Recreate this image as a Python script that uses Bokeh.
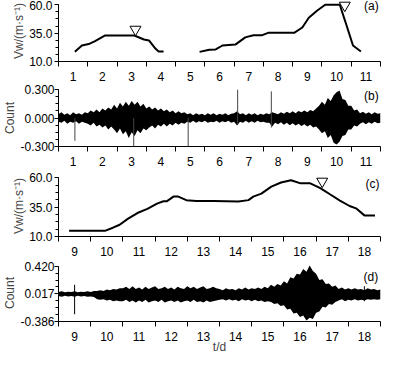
import numpy as np
from bokeh.plotting import figure
from bokeh.layouts import column
from bokeh.models import FixedTicker, Label, Range1d
from bokeh.embed import file_html
from bokeh.resources import INLINE

nan = float("nan")

# ---------------- data ----------------
# panel (a) wind speed, days 1-11 (gap between the two records)
a_day = [1.06, 1.30, 1.53, 1.75, 2.08, 3.09, 3.42, 3.59, 3.81, 3.92, 4.09, nan,
         5.32, 5.65, 5.87, 6.10, 6.54, 6.88, 7.16, 7.44, 7.66, 8.55, 8.83, 9.05,
         9.33, 9.61, 10.11, 10.30, 10.56, 10.83]
a_speed = [18.5, 24.1, 25.4, 28.0, 32.9, 32.9, 29.4, 28.6, 21.4, 18.8, 18.8, nan,
           18.5, 20.4, 20.6, 24.1, 24.9, 31.3, 33.1, 33.1, 35.3, 35.3, 40.0, 48.6,
           54.7, 60.0, 60.0, 45.0, 24.1, 18.8]
a_tri_day = [3.13, 10.28]
a_tri_val = [38.3, 59.5]

# panel (b) count record envelope, days 0.5-11.5 sampled every 0.1 d
b_day = np.round(np.arange(0.5, 11.5001, 0.1), 2)
b_up = [0.04, 0.06, 0.035, 0.05, 0.03, 0.06, 0.04, 0.05, 0.035, 0.06,
        0.05, 0.08, 0.06, 0.09, 0.06, 0.10, 0.08, 0.11, 0.09,
        0.14, 0.10, 0.16, 0.12, 0.17, 0.13, 0.18, 0.14, 0.17, 0.12, 0.15, 0.10,
        0.12, 0.09, 0.11, 0.08, 0.10, 0.07, 0.09, 0.06, 0.08, 0.05, 0.07, 0.05, 0.06,
        0.04, 0.05, 0.03, 0.05, 0.035, 0.045, 0.03, 0.05, 0.035, 0.05, 0.03, 0.045, 0.035, 0.05, 0.03, 0.045, 0.05,
        0.07, 0.04, 0.05, 0.03, 0.05, 0.035, 0.05, 0.03, 0.045, 0.035, 0.05, 0.04, 0.06,
        0.05, 0.04, 0.06, 0.045, 0.065, 0.05, 0.07, 0.05, 0.075, 0.06, 0.08, 0.06, 0.085, 0.07, 0.10,
        0.13, 0.17, 0.14, 0.21, 0.18, 0.24, 0.27,
        0.29, 0.20, 0.19, 0.13, 0.13, 0.08, 0.09,
        0.05, 0.065, 0.045, 0.06, 0.04, 0.06, 0.045, 0.05]
b_low = [-0.04, -0.05, -0.03, -0.06, -0.04, -0.05, -0.035, -0.06, -0.04, -0.05,
         -0.06, -0.08, -0.05, -0.09, -0.07, -0.10, -0.08, -0.12, -0.09,
         -0.12, -0.16, -0.11, -0.17, -0.14, -0.21, -0.15, -0.19, -0.13, -0.16, -0.11, -0.13,
         -0.10, -0.08, -0.11, -0.07, -0.09, -0.06, -0.09, -0.06, -0.08, -0.05, -0.07, -0.05, -0.06,
         -0.04, -0.05, -0.03, -0.05, -0.035, -0.045, -0.03, -0.05, -0.04, -0.045, -0.03, -0.05, -0.035, -0.045, -0.03, -0.05, -0.04,
         -0.08, -0.04, -0.05, -0.03, -0.05, -0.035, -0.05, -0.03, -0.045, -0.04, -0.05, -0.05, -0.09,
         -0.05, -0.065, -0.045, -0.07, -0.05, -0.075, -0.055, -0.08, -0.06, -0.085, -0.065, -0.09, -0.07, -0.10, -0.09,
         -0.12, -0.16, -0.14, -0.21, -0.18, -0.26, -0.28,
         -0.25, -0.19, -0.18, -0.12, -0.12, -0.08, -0.09,
         -0.06, -0.045, -0.065, -0.045, -0.06, -0.04, -0.055, -0.05]
b_spike_day = [1.06, 3.07, 4.93, 6.62, 7.77]
b_spike_top = [0.0, 0.0, 0.0, 0.30, 0.28]
b_spike_bot = [-0.24, -0.30, -0.30, -0.07, -0.10]

# panel (c) wind speed, days 9-18
c_day = [8.83, 9.94, 10.19, 10.40, 10.65, 10.95, 11.26, 11.56, 11.76, 11.86, 12.07,
         12.22, 12.47, 12.78, 13.33, 14.09, 14.40, 14.55, 14.80, 15.11, 15.41, 15.72,
         16.02, 16.32, 16.63, 16.93, 17.24, 17.54, 17.74, 18.00, 18.33]
c_speed = [14.8, 14.8, 17.5, 20.0, 25.0, 30.0, 33.5, 38.0, 40.0, 40.0, 44.0,
           44.0, 41.0, 40.3, 40.3, 39.8, 41.0, 44.0, 46.5, 52.5, 56.0, 58.0,
           55.3, 55.3, 51.3, 46.0, 40.6, 36.0, 34.0, 28.0, 28.0]
c_tri_day = [16.69]
c_tri_val = [57.0]

# panel (d) count record envelope, days 8.5-18.5 sampled every 0.1 d
d_day = np.round(np.arange(8.5, 18.5001, 0.1), 2)
d_up = [0.045, 0.055, 0.04, 0.05, 0.045, 0.055, 0.04, 0.05, 0.045, 0.055, 0.045, 0.06,
        0.06, 0.07, 0.06, 0.08, 0.07, 0.09, 0.08, 0.10,
        0.10, 0.12, 0.09, 0.13, 0.09, 0.11, 0.08, 0.12, 0.09, 0.11, 0.13, 0.09, 0.10, 0.12, 0.09,
        0.11, 0.08, 0.12, 0.10, 0.09, 0.13, 0.10, 0.12, 0.09, 0.11, 0.13, 0.09, 0.10, 0.12, 0.10,
        0.09, 0.07, 0.10, 0.08, 0.09, 0.07, 0.10, 0.08, 0.11, 0.08, 0.10, 0.09, 0.11, 0.09, 0.12, 0.10,
        0.15, 0.12, 0.16, 0.14, 0.20, 0.17, 0.26, 0.24,
        0.31, 0.30, 0.38, 0.34, 0.43, 0.35, 0.31,
        0.22, 0.23, 0.16, 0.17, 0.12, 0.14,
        0.09, 0.11, 0.08, 0.10, 0.08, 0.10, 0.08, 0.09, 0.07, 0.10, 0.08, 0.09, 0.07, 0.08]
d_low = [-0.015, -0.025, -0.01, -0.02, -0.015, -0.025, -0.01, -0.02, -0.015, -0.025, -0.02, -0.03,
         -0.06, -0.07, -0.06, -0.08, -0.07, -0.09, -0.08, -0.09,
         -0.09, -0.07, -0.10, -0.08, -0.11, -0.08, -0.10, -0.07, -0.11, -0.09, -0.08, -0.10, -0.07, -0.11, -0.09,
         -0.08, -0.10, -0.08, -0.11, -0.09, -0.08, -0.10, -0.07, -0.10, -0.09, -0.11, -0.08, -0.10, -0.09, -0.08,
         -0.07, -0.06, -0.08, -0.06, -0.08, -0.07, -0.09, -0.06, -0.08, -0.07, -0.09, -0.07, -0.09, -0.08, -0.10, -0.09,
         -0.10, -0.13, -0.12, -0.16, -0.15, -0.21, -0.20, -0.27,
         -0.26, -0.32, -0.30, -0.37, -0.33, -0.35, -0.26,
         -0.24, -0.17, -0.18, -0.13, -0.14, -0.10,
         -0.08, -0.06, -0.09, -0.07, -0.08, -0.06, -0.08, -0.07, -0.08, -0.06, -0.07, -0.06, -0.07, -0.06]
d_spike_day = [9.0, 18.0]
d_spike_top = [0.15, 0.13]
d_spike_bot = [-0.28, -0.09]

# ticks / labels
ab_days = list(range(1, 12))
ab_bounds = [x - 0.5 for x in range(1, 13)]
cd_days = list(range(9, 19))
cd_bounds = [x - 0.5 for x in range(9, 20)]
a_yticks = [10.0, 35.0, 60.0]
a_ylabels = ["10.0", "35.0", "60.0"]
b_yticks = [-0.3, 0.0, 0.3]
b_ylabels = ["-0.300", "0.000", "0.300"]
c_yticks = [10.0, 35.0, 60.0]
c_ylabels = ["10.0", "35.0", "60.0"]
d_yticks = [-0.386, 0.017, 0.420]
d_ylabels = ["-0.386", "0.017", "0.420"]

FONT = "Liberation Sans"
W = 393


def make_fig(h, top, bottom, xr, yr):
    p = figure(width=W, height=h, x_range=Range1d(*xr), y_range=Range1d(*yr),
               output_backend="svg", toolbar_location=None,
               min_border_left=52, min_border_right=13,
               min_border_top=top, min_border_bottom=bottom)
    p.outline_line_color = None
    p.xgrid.visible = False
    p.ygrid.visible = False
    p.background_fill_color = "white"
    return p


def style_axes(p, xticks, xminor, yticks, ylabels, ylab, ybounds, ystand):
    xa = p.xaxis[0]
    xa.ticker = FixedTicker(ticks=xticks, minor_ticks=xminor)
    xa.major_tick_out = 0
    xa.major_tick_in = 0
    xa.minor_tick_out = 5
    xa.minor_tick_in = 0
    xa.minor_tick_line_color = "black"
    xa.axis_line_color = "black"
    xa.major_label_text_font = FONT
    xa.major_label_text_font_size = "12px"
    xa.major_label_text_color = "black"
    xa.major_label_standoff = 5

    ya = p.yaxis[0]
    lo, hi = yticks[0], yticks[-1]
    step = (hi - lo) / 8.0
    minors = [lo + i * step for i in range(9)]
    ya.ticker = FixedTicker(ticks=yticks, minor_ticks=minors)
    ya.major_label_overrides = {t: l for t, l in zip(yticks, ylabels)}
    ya.bounds = ybounds
    ya.major_tick_out = 4
    ya.major_tick_in = 0
    ya.minor_tick_out = 3
    ya.minor_tick_in = 0
    ya.minor_tick_line_color = "black"
    ya.axis_line_color = "black"
    ya.major_label_text_font = FONT
    ya.major_label_text_font_size = "12px"
    ya.major_label_text_color = "black"
    ya.major_label_standoff = ystand
    ya.axis_label = ylab
    ya.axis_label_text_font = FONT
    ya.axis_label_text_font_size = "12px"
    ya.axis_label_text_font_style = "normal"
    ya.axis_label_standoff = 0


def panel_label(p, x, y, t):
    p.add_layout(Label(x=x, y=y, text=t, text_font=FONT, text_font_size="12px",
                       text_align="center", text_baseline="middle", text_color="black"))


# ---- (a)
pa = make_fig(83, 0, 18, (0.5, 11.5), (10, 63.8))
pa.line(a_day, a_speed, line_color="black", line_width=2)
pa.scatter(a_tri_day, a_tri_val, marker="inverted_triangle", size=11,
           fill_color="white", line_color="black", line_width=1)
style_axes(pa, ab_days, ab_bounds, a_yticks, a_ylabels, "Vw/(m·s⁻¹)", (10, 60), 2)
panel_label(pa, 11.19, 58.8, "(a)")

# ---- (b)
pb = make_fig(85, 6, 18, (0.5, 11.5), (-0.3, 0.3))
pb.varea(x=b_day, y1=b_low, y2=b_up, fill_color="black")
pb.segment(x0=b_spike_day, y0=b_spike_bot, x1=b_spike_day, y1=b_spike_top,
           line_color="#444444", line_width=1)
style_axes(pb, ab_days, ab_bounds, b_yticks, b_ylabels, "Count", (-0.3, 0.3), 0)
panel_label(pb, 11.19, 0.23, "(b)")

# ---- (c)
pc = make_fig(90, 7, 18, (8.5, 18.5), (10, 62))
pc.line(c_day, c_speed, line_color="black", line_width=2)
pc.scatter(c_tri_day, c_tri_val, marker="inverted_triangle", size=11,
           fill_color="white", line_color="black", line_width=1)
style_axes(pc, cd_days, cd_bounds, c_yticks, c_ylabels, "Vw/(m·s⁻¹)", (10, 60), 2)
panel_label(pc, 18.25, 54.6, "(c)")

# ---- (d)
pd_ = make_fig(98, 6, 28, (8.5, 18.5), (-0.386, 0.446))
pd_.varea(x=d_day, y1=d_low, y2=d_up, fill_color="black")
pd_.segment(x0=d_spike_day, y0=d_spike_bot, x1=d_spike_day, y1=d_spike_top,
            line_color="black", line_width=1)
style_axes(pd_, cd_days, cd_bounds, d_yticks, d_ylabels, "Count", (-0.386, 0.42), 0)
pd_.xaxis[0].axis_label = "t/d"
pd_.xaxis[0].axis_label_text_font = FONT
pd_.xaxis[0].axis_label_text_font_size = "12px"
pd_.xaxis[0].axis_label_text_font_style = "normal"
pd_.xaxis[0].axis_label_standoff = -4
panel_label(pd_, 18.2, 0.265, "(d)")

layout = column(pa, pb, pc, pd_, spacing=0)
open("out.html", "w").write(file_html(layout, INLINE))
